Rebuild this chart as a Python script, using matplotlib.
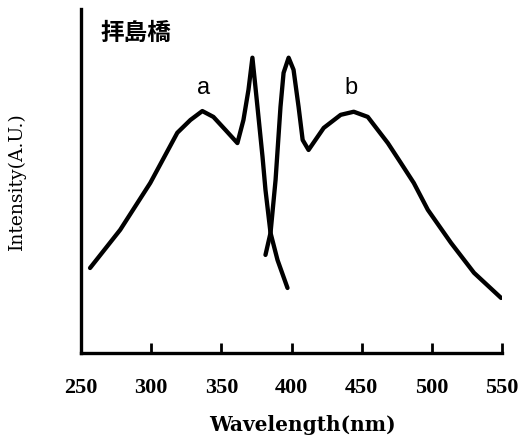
import matplotlib
matplotlib.use("Agg")
import matplotlib.pyplot as plt

# Excitation spectrum (a)
ex_wl = [256.4, 277.9, 299.3, 318.6, 327.9, 336.4, 344.3, 352.9, 361.4, 365.7,
         369.3, 372.1, 375.7, 379.3, 381.4, 385.0, 390.0, 397.1]
ex_int = [24.7, 35.8, 49.4, 64.0, 67.7, 70.3, 68.6, 64.8, 61.0, 67.7,
          76.5, 85.8, 71.5, 57.0, 47.4, 34.9, 27.0, 18.9]

# Emission spectrum (b)
em_wl = [381.4, 385.0, 388.6, 392.1, 394.3, 397.9, 401.4, 405.0, 407.9, 412.1,
         422.9, 435.0, 444.3, 454.3, 468.6, 477.9, 487.1, 497.1, 513.6, 530.0, 549.3]
em_int = [28.5, 34.9, 50.3, 71.5, 81.4, 85.8, 82.3, 71.5, 61.9, 59.0,
          65.4, 69.2, 70.1, 68.6, 61.0, 55.2, 49.4, 41.6, 32.0, 23.3, 16.0]

xticks = [250, 300, 350, 400, 450, 500, 550]

fig = plt.figure(figsize=(5.23, 4.41), dpi=100)
ax = fig.add_axes([0.155, 0.1995, 0.805, 0.7805])

kw = dict(color="black", lw=3.1, solid_joinstyle="round", solid_capstyle="round")
ax.plot(ex_wl, ex_int, **kw)
ax.plot(em_wl, em_int, **kw)

ax.set_xlim(250, 550)
ax.set_ylim(0, 100)
for s in ["top", "right"]:
    ax.spines[s].set_visible(False)
ax.spines["left"].set_linewidth(2.4)
ax.spines["bottom"].set_linewidth(2.4)
ax.set_yticks([])
ax.set_xticks(xticks)
ax.tick_params(axis="x", direction="in", length=7, width=2, pad=18)
for lab in ax.get_xticklabels():
    lab.set_fontfamily("Liberation Serif")
    lab.set_fontweight("bold")
    lab.set_fontsize(16)

ax.set_xlabel("Wavelength(nm)", fontfamily="DejaVu Serif", fontweight="bold",
              fontsize=14.5)
ax.xaxis.set_label_coords(0.525, -0.18)
ax.set_ylabel("Intensity(A.U.)", fontfamily="DejaVu Serif", fontsize=13.5,
              labelpad=40)

ax.text(263.6, 93, "拝島橋", fontfamily=["Noto Sans CJK JP", "DejaVu Sans"],
        fontsize=17, fontweight="bold", va="center", ha="left")
ax.text(337, 77, "a", fontfamily="Liberation Sans", fontsize=17, ha="center", va="center")
ax.text(442, 77, "b", fontfamily="Liberation Sans", fontsize=17, ha="center", va="center")

fig.savefig("out.png", dpi=100)
